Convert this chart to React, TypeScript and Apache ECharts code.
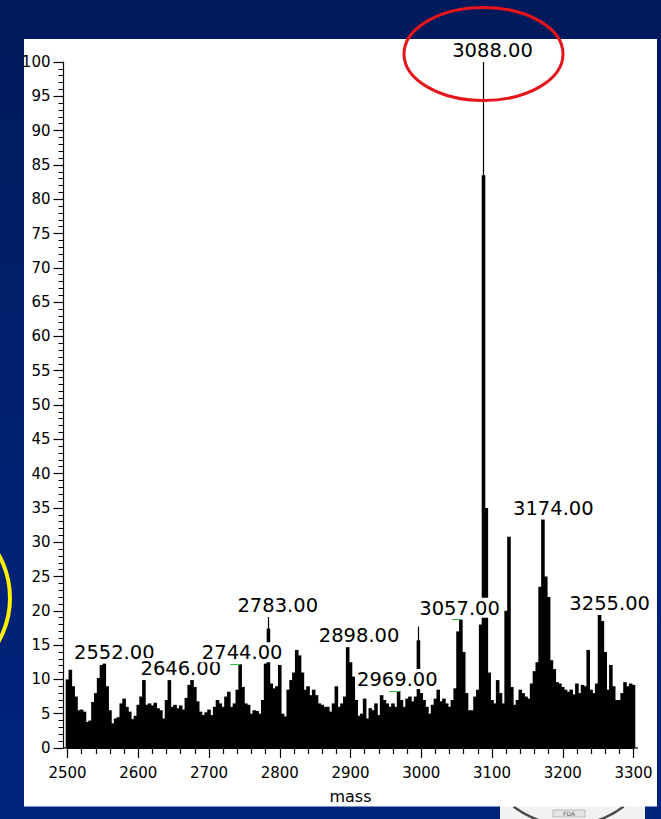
import React, { useEffect, useRef } from "react";
import * as echarts from "echarts";

// Spectrum sampled every 4 mass units from 2500 to 3300 (relative intensity, %)
const massStart = 2500;
const massStep = 4;
const intensity = [
  10.0, 11.4, 9.0, 7.5, 5.5, 5.6, 5.3, 3.8, 4.0, 6.7,
  8.0, 10.2, 12.1, 12.3, 9.0, 5.5, 3.6, 4.3, 4.5, 6.5,
  7.2, 6.0, 5.3, 4.2, 4.7, 6.3, 7.5, 9.9, 6.3, 6.5,
  6.2, 6.6, 5.8, 5.5, 4.3, 7.0, 9.9, 6.0, 6.3, 5.8,
  6.2, 5.6, 7.3, 9.2, 9.9, 8.9, 6.8, 5.3, 4.8, 5.2,
  5.6,
  4.8, 6.0, 7.0, 6.5, 6.0, 7.5, 8.2, 6.0, 6.5, 8.5,
  12.2, 8.9, 6.5, 6.3, 5.0, 5.5, 5.4, 5.0, 7.0, 12.3,
  17.4, 9.4, 8.7, 9.0, 12.1,
  5.0, 4.6, 8.5, 9.9, 11.0, 14.3, 13.5, 11.0, 8.5, 9.0,
  7.7, 8.5, 7.7, 6.5, 6.3, 6.0, 6.0, 5.3, 6.5, 9.0,
  6.0, 6.5, 7.5, 14.7, 12.5,
  10.4, 7.0, 4.7, 5.0, 7.2, 4.3, 5.8, 5.5, 6.5, 4.8,
  7.7, 7.0, 6.5, 6.0, 6.5, 6.0, 8.3, 7.0, 6.0, 7.2,
  7.5, 6.8, 7.5, 15.7, 8.0,
  7.0, 6.0, 5.0, 6.3, 7.2, 8.5, 6.8, 7.2, 6.5, 6.0,
  7.0, 8.7, 17.0, 18.7, 14.0, 8.0, 5.5, 5.5, 7.5, 8.5,
  18.0, 83.5, 35.0, 11.0, 7.0,
  6.5, 9.9, 8.0, 6.5, 20.0, 30.8, 8.9, 6.3, 7.0, 8.5,
  8.0, 7.5, 7.2, 9.4, 11.2, 12.5, 23.5, 33.3, 25.0, 22.0,
  12.8, 11.5, 9.6, 9.4, 8.9,
  8.5, 8.2, 8.5, 7.8, 9.4, 8.0, 9.2, 9.0, 14.3, 8.5,
  8.0, 9.4, 19.4, 18.5, 14.0, 8.5, 12.1, 9.0, 7.0, 7.0,
  8.0, 9.6, 9.0, 9.4, 9.2,
];

// Labelled peaks
const peakMass = [2552, 2646, 2744, 2783, 2898, 2969, 3057, 3088, 3174, 3255];
const peakValue = [12.3, 9.9, 12.2, 19.1, 14.7, 8.3, 18.7, 100, 33.3, 19.4];

// Narrow centroid tips rising above the profile
const tipMass = [2784, 2996, 3088];
const tipValue = [19.1, 17.7, 100];

// Peaks whose labels carry a small green leader
const leaderMass = [2744, 2969, 3057];

const FONT = '"DejaVu Sans", "Liberation Sans", sans-serif';

export default function App() {
  const ref = useRef<HTMLDivElement>(null);

  useEffect(() => {
    const chart = echarts.init(ref.current!, undefined, { renderer: "svg" });
    const masses = intensity.map((_, i) => massStart + i * massStep);
    const barData = masses.map((m, i) => [m, intensity[i]]);
    const labelDx = [10, 10, 2, 10, 10, -2, -2, 9, 9, 8];

    const peakData = peakMass.map((m, i) => ({
      value: [m, peakValue[i]],
      label: { offset: [labelDx[i], 0] },
    }));

    const tipLines = tipMass.map((m, i) => [
      { coord: [m, 0] },
      { coord: [m, tipValue[i]] },
    ]);

    const leaderLines = leaderMass.map((m) => {
      const v = peakValue[peakMass.indexOf(m)];
      return [{ coord: [m - 14, v] }, { coord: [m, v] }];
    });

    const option: any = {
      animation: false,
      textStyle: { fontFamily: FONT },
      grid: { left: 67.5, right: 27.5, top: 62, bottom: 71, containLabel: false },
      xAxis: {
        type: "value",
        min: 2500,
        max: 3300,
        interval: 100,
        name: "mass",
        nameLocation: "middle",
        nameGap: 40,
        nameTextStyle: { fontSize: 16, color: "#000", fontFamily: FONT },
        axisLine: { show: true, lineStyle: { color: "#000", width: 1.2 } },
        axisTick: { show: true, length: 10, lineStyle: { color: "#000", width: 1.2 } },
        minorTick: { show: true, splitNumber: 5, length: 6, lineStyle: { color: "#000", width: 1.2 } },
        axisLabel: {
          fontSize: 15,
          color: "#000",
          margin: 17,
          fontFamily: FONT,
          formatter: (v: number) => String(v),
        },
        splitLine: { show: false },
        minorSplitLine: { show: false },
      },
      yAxis: {
        type: "value",
        min: 0,
        max: 100,
        interval: 5,
        offset: 4,
        axisLine: { show: true, lineStyle: { color: "#000", width: 1.2 } },
        axisTick: { show: true, length: 10, lineStyle: { color: "#000", width: 1.2 } },
        minorTick: { show: true, splitNumber: 5, length: 5, lineStyle: { color: "#000", width: 1 } },
        axisLabel: {
          fontSize: 15,
          color: "#000",
          margin: 13,
          fontFamily: FONT,
          formatter: (v: number) => String(v),
        },
        splitLine: { show: false },
        minorSplitLine: { show: false },
      },
      graphic: [
        { type: "rect", z: -3, shape: { x: 500, y: 806, width: 145, height: 13 }, style: { fill: "#f2f2f2" } },
        {
          type: "arc",
          z: -2,
          shape: { cx: 568.5, cy: 734, r: 91, startAngle: 0.92, endAngle: 2.22, clockwise: true },
          style: { fill: "none", stroke: "#4a4a4a", lineWidth: 2.5 },
        },
        { type: "rect", z: -2, shape: { x: 553, y: 810, width: 32, height: 7 }, style: { fill: "#e4e4e4", stroke: "#9a9a9a", lineWidth: 0.6 } },
        { type: "text", z: -2, x: 569, y: 813.5, style: { text: "FDA", fontSize: 6, fill: "#666", align: "center", verticalAlign: "middle", fontFamily: FONT } },
        { type: "rect", z: -1, shape: { x: 24, y: 39, width: 633, height: 767.5 }, style: { fill: "#ffffff" } },
        { type: "line", z: 5, shape: { x1: 63.5, y1: 748, x2: 67.5, y2: 748 }, style: { stroke: "#000", lineWidth: 1.2 } },
        { type: "line", z: 5, shape: { x1: 633.5, y1: 748, x2: 638, y2: 748 }, style: { stroke: "#000", lineWidth: 1.2 } },
        { type: "ellipse", z: 100, shape: { cx: 483.5, cy: 54, rx: 79.5, ry: 46.5 }, style: { fill: "none", stroke: "#e8141b", lineWidth: 3 } },
        { type: "ellipse", z: 100, shape: { cx: -78, cy: 598, rx: 88, ry: 88 }, style: { fill: "none", stroke: "#ffee00", lineWidth: 4 } },
      ],
      series: [
        {
          type: "bar",
          data: barData,
          barWidth: 3.6,
          itemStyle: { color: "#000" },
          z: 2,
          markLine: {
            silent: true,
            symbol: ["none", "none"],
            label: { show: false },
            lineStyle: { color: "#000", width: 1.2, type: "solid" },
            data: tipLines,
          },
        },
        {
          type: "scatter",
          data: peakData,
          symbolSize: 0.01,
          itemStyle: { color: "#000", opacity: 1 },
          z: 10,
          label: {
            show: true,
            position: "top",
            distance: 2,
            formatter: (p: any) => Number(p.value[0]).toFixed(2),
            fontSize: 19.5,
            fontFamily: FONT,
            color: "#000",
            opacity: 1,
            backgroundColor: "#ffffff",
            padding: [1, 2, 0, 2],
            lineHeight: 19,
          },
          markLine: {
            silent: true,
            symbol: ["none", "none"],
            label: { show: false },
            lineStyle: { color: "#33bb44", width: 1, type: "solid", opacity: 1 },
            data: leaderLines,
          },
        },
      ],
    };

    chart.setOption(option);
    return () => chart.dispose();
  }, []);

  return (
    <div
      ref={ref}
      style={{
        position: "fixed",
        left: 0,
        top: 0,
        width: 661,
        height: 819,
        background: "linear-gradient(180deg, #001a5b 0%, #001f6c 40%, #00247e 100%)",
      }}
    />
  );
}
